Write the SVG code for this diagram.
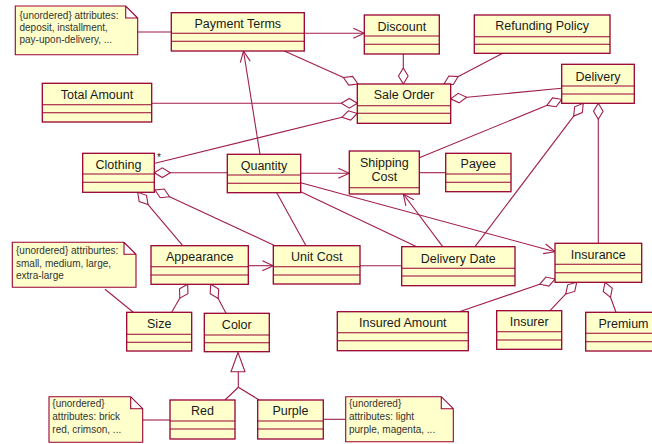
<svg xmlns="http://www.w3.org/2000/svg" width="652" height="444" viewBox="0 0 652 444">
<style>
.box{fill:#FFFFCC;stroke:#990033;stroke-width:1.3}
.sep{stroke:#990033;stroke-width:1.1}
.name{font-family:"Liberation Sans",Arial,sans-serif;font-size:12.5px;fill:#1a1a1a;text-anchor:middle}
.note{fill:#FFFFCC;stroke:#990033;stroke-width:1.1}
.ntxt{font-family:"Liberation Sans",Arial,sans-serif;font-size:10px;fill:#333}
.ln{fill:none;stroke:#A01D4C;stroke-width:1.1}
.agg{marker-end:url(#dia)}
.nav{marker-end:url(#arr)}
</style>
<defs>
<marker id="dia" viewBox="-1 -6 18 12" refX="16" refY="0" markerWidth="18" markerHeight="12" markerUnits="userSpaceOnUse" orient="auto"><path d="M0,0 L8,-4.8 L16,0 L8,4.8 Z" fill="#fff" stroke="#A01D4C" stroke-width="1.1"/></marker>
<marker id="arr" viewBox="-12 -7 13 14" refX="0" refY="0" markerWidth="13" markerHeight="14" markerUnits="userSpaceOnUse" orient="auto"><path d="M-11,-5 L0,0 L-11,5" fill="none" stroke="#A01D4C" stroke-width="1.1"/></marker>
</defs>

<g id="connectors">
<line class="ln" x1="137.7" y1="32" x2="171.3" y2="32"/>
<line class="ln nav" x1="304.3" y1="33.3" x2="364.3" y2="33.3"/>
<line class="ln agg" x1="403.3" y1="54" x2="403.3" y2="84"/>
<line class="ln agg" x1="284.3" y1="51" x2="358" y2="84"/>
<line class="ln agg" x1="502.7" y1="53.3" x2="444" y2="84"/>
<line class="ln agg" x1="151.7" y1="103.3" x2="357.3" y2="103.3"/>
<line class="ln agg" x1="155" y1="163.3" x2="357.3" y2="113.5"/>
<line class="ln agg" x1="561.7" y1="88.3" x2="450.7" y2="98.8"/>
<line class="ln nav" x1="260" y1="154.3" x2="243.5" y2="51"/>
<line class="ln agg" x1="419.3" y1="157.7" x2="561.7" y2="99.3"/>
<line class="ln agg" x1="475" y1="246.7" x2="583.3" y2="103.3"/>
<line class="ln agg" x1="598.3" y1="243.3" x2="598.3" y2="103.3"/>
<line class="ln agg" x1="227.3" y1="172.7" x2="154.3" y2="172.7"/>
<line class="ln agg" x1="182.7" y1="245.7" x2="137.7" y2="192.3"/>
<line class="ln agg" x1="275" y1="245.7" x2="155" y2="190"/>
<line class="ln nav" x1="248.3" y1="265.7" x2="273.3" y2="265.7"/>
<line class="ln" x1="276.7" y1="192.7" x2="306" y2="245.7"/>
<line class="ln nav" x1="300.7" y1="173.3" x2="349.3" y2="173.3"/>
<line class="ln nav" x1="300.7" y1="182.7" x2="555" y2="251.7"/>
<line class="ln" x1="300.7" y1="191.7" x2="416.7" y2="246.7"/>
<line class="ln nav" x1="442.7" y1="246.7" x2="403.3" y2="194"/>
<line class="ln" x1="419.3" y1="172.7" x2="445.7" y2="172.7"/>
<line class="ln" x1="360" y1="265.7" x2="401.7" y2="265.7"/>
<line class="ln agg" x1="459.3" y1="311.7" x2="555" y2="279"/>
<line class="ln agg" x1="550" y1="310.7" x2="576.7" y2="282.3"/>
<line class="ln agg" x1="616" y1="312.3" x2="605" y2="282.3"/>
<line class="ln" x1="105" y1="289.3" x2="133.3" y2="312.3"/>
<line class="ln agg" x1="171.7" y1="312.3" x2="187.7" y2="284.3"/>
<line class="ln agg" x1="226" y1="313.3" x2="210.7" y2="284.3"/>
<path class="ln" d="M225,400 L238.3,387.3 L259.3,400 M238.3,387.3 V371.7"/>
<path d="M238,352.5 L231,371.7 H245 Z" fill="#fff" stroke="#A01D4C" stroke-width="1.1"/>
<line class="ln" x1="142.7" y1="420" x2="170" y2="420"/>
<line class="ln" x1="323.3" y1="419.3" x2="345.7" y2="419.3"/>
<text x="159" y="161" font-family="Liberation Sans,Arial,sans-serif" font-size="10" fill="#1a1a1a" text-anchor="middle">*</text>
</g>

<g id="note-payment">
<path class="note" d="M15.3,6 H125.7 L137.7,18 V54.7 H15.3 Z M125.7,6 V18 H137.7"/>
<text class="ntxt" x="19.5" y="18.5">{unordered} attributes:</text>
<text class="ntxt" x="19.5" y="30.5">deposit, installment,</text>
<text class="ntxt" x="19.5" y="43">pay-upon-delivery, ...</text>
</g>
<g id="payment-terms"><rect class="box" x="171.3" y="12.7" width="133" height="38.3"/><line class="sep" x1="171.3" y1="33.3" x2="304.3" y2="33.3"/><line class="sep" x1="171.3" y1="41.3" x2="304.3" y2="41.3"/><text class="name" x="237.8" y="27.7">Payment Terms</text></g>
<g id="discount"><rect class="box" x="364.3" y="15" width="75" height="39"/><line class="sep" x1="364.3" y1="36" x2="439.3" y2="36"/><line class="sep" x1="364.3" y1="44.3" x2="439.3" y2="44.3"/><text class="name" x="401.8" y="31">Discount</text></g>
<g id="refunding-policy"><rect class="box" x="474.3" y="15" width="135.7" height="38.3"/><line class="sep" x1="474.3" y1="36.7" x2="610" y2="36.7"/><line class="sep" x1="474.3" y1="44.3" x2="610" y2="44.3"/><text class="name" x="542.2" y="30">Refunding Policy</text></g>
<g id="sale-order"><rect class="box" x="357.3" y="84" width="93.4" height="39.3"/><line class="sep" x1="357.3" y1="105.7" x2="450.7" y2="105.7"/><line class="sep" x1="357.3" y1="113.3" x2="450.7" y2="113.3"/><text class="name" x="404" y="99.3">Sale Order</text></g>
<g id="delivery"><rect class="box" x="561.7" y="64.3" width="72.6" height="39"/><line class="sep" x1="561.7" y1="86" x2="634.3" y2="86"/><line class="sep" x1="561.7" y1="94" x2="634.3" y2="94"/><text class="name" x="598" y="81">Delivery</text></g>
<g id="total-amount"><rect class="box" x="42.3" y="83.3" width="109.4" height="38.7"/><line class="sep" x1="42.3" y1="104.7" x2="151.7" y2="104.7"/><line class="sep" x1="42.3" y1="112.7" x2="151.7" y2="112.7"/><text class="name" x="97" y="99.3">Total Amount</text></g>
<g id="clothing"><rect class="box" x="82.7" y="153.3" width="71.6" height="39"/><line class="sep" x1="82.7" y1="174" x2="154.3" y2="174"/><line class="sep" x1="82.7" y1="182.3" x2="154.3" y2="182.3"/><text class="name" x="118.5" y="168.6">Clothing</text></g>
<g id="quantity"><rect class="box" x="227.3" y="154.3" width="73.4" height="38.4"/><line class="sep" x1="227.3" y1="175" x2="300.7" y2="175"/><line class="sep" x1="227.3" y1="183.3" x2="300.7" y2="183.3"/><text class="name" x="264" y="170">Quantity</text></g>
<g id="shipping-cost"><rect class="box" x="349.3" y="151" width="70" height="43"/><line class="sep" x1="349.3" y1="187.7" x2="419.3" y2="187.7"/><text class="name" x="384.3" y="167">Shipping</text><text class="name" x="384.3" y="181">Cost</text></g>
<g id="payee"><rect class="box" x="445.7" y="153.3" width="65.3" height="38.4"/><line class="sep" x1="445.7" y1="174" x2="511" y2="174"/><line class="sep" x1="445.7" y1="182.3" x2="511" y2="182.3"/><text class="name" x="478.3" y="168.3">Payee</text></g>
<g id="appearance"><rect class="box" x="151" y="245.7" width="97.3" height="38.6"/><line class="sep" x1="151" y1="266.7" x2="248.3" y2="266.7"/><line class="sep" x1="151" y1="275" x2="248.3" y2="275"/><text class="name" x="199.7" y="261">Appearance</text></g>
<g id="unit-cost"><rect class="box" x="273.3" y="245.7" width="86.7" height="38.3"/><line class="sep" x1="273.3" y1="266.7" x2="360" y2="266.7"/><line class="sep" x1="273.3" y1="275" x2="360" y2="275"/><text class="name" x="316.7" y="261">Unit Cost</text></g>
<g id="delivery-date"><rect class="box" x="401.7" y="246.7" width="113.3" height="39"/><line class="sep" x1="401.7" y1="268.3" x2="515" y2="268.3"/><line class="sep" x1="401.7" y1="276" x2="515" y2="276"/><text class="name" x="458.3" y="262.6">Delivery Date</text></g>
<g id="insurance"><rect class="box" x="555" y="243.3" width="86.7" height="39"/><line class="sep" x1="555" y1="264.3" x2="641.7" y2="264.3"/><line class="sep" x1="555" y1="272.7" x2="641.7" y2="272.7"/><text class="name" x="598.3" y="259.3">Insurance</text></g>
<g id="note-size">
<path class="note" d="M12.3,242.3 H124 L136,254.3 V287.3 H12.3 Z M124,242.3 V254.3 H136"/>
<text class="ntxt" x="16" y="253.5">{unordered} attriburtes:</text>
<text class="ntxt" x="16" y="266.5">small, medium, large,</text>
<text class="ntxt" x="16" y="279">extra-large</text>
</g>
<g id="size"><rect class="box" x="126.7" y="312.3" width="65" height="38.7"/><line class="sep" x1="126.7" y1="334.3" x2="191.7" y2="334.3"/><line class="sep" x1="126.7" y1="342.3" x2="191.7" y2="342.3"/><text class="name" x="159.2" y="327.6">Size</text></g>
<g id="color"><rect class="box" x="204.3" y="313.3" width="65" height="38.4"/><line class="sep" x1="204.3" y1="335" x2="269.3" y2="335"/><line class="sep" x1="204.3" y1="342.7" x2="269.3" y2="342.7"/><text class="name" x="236.8" y="329.3">Color</text></g>
<g id="insured-amount"><rect class="box" x="337.3" y="311.7" width="131" height="39"/><line class="sep" x1="337.3" y1="332.7" x2="468.3" y2="332.7"/><line class="sep" x1="337.3" y1="340.7" x2="468.3" y2="340.7"/><text class="name" x="402.8" y="327">Insured Amount</text></g>
<g id="insurer"><rect class="box" x="496.7" y="310.7" width="65" height="38.6"/><line class="sep" x1="496.7" y1="331.7" x2="561.7" y2="331.7"/><line class="sep" x1="496.7" y1="340" x2="561.7" y2="340"/><text class="name" x="529.2" y="326">Insurer</text></g>
<g id="premium"><rect class="box" x="585.7" y="312.3" width="75.6" height="38.7"/><line class="sep" x1="585.7" y1="333.3" x2="661.3" y2="333.3"/><line class="sep" x1="585.7" y1="341.7" x2="661.3" y2="341.7"/><text class="name" x="623.5" y="327.6">Premium</text></g>
<g id="red"><rect class="box" x="170" y="400" width="65" height="39"/><line class="sep" x1="170" y1="421" x2="235" y2="421"/><line class="sep" x1="170" y1="429" x2="235" y2="429"/><text class="name" x="202.5" y="415.3">Red</text></g>
<g id="purple"><rect class="box" x="257.7" y="400" width="65.6" height="39"/><line class="sep" x1="257.7" y1="421" x2="323.3" y2="421"/><line class="sep" x1="257.7" y1="429" x2="323.3" y2="429"/><text class="name" x="290.5" y="415.3">Purple</text></g>
<g id="note-red">
<path class="note" d="M49,396.7 H130.7 L142.7,408.7 V442.3 H49 Z M130.7,396.7 V408.7 H142.7"/>
<text class="ntxt" x="52.3" y="406.8">{unordered}</text>
<text class="ntxt" x="52.3" y="420">attributes: brick</text>
<text class="ntxt" x="52.3" y="433.3">red, crimson, ...</text>
</g>
<g id="note-purple">
<path class="note" d="M345.7,396.7 H441.3 L453.3,408.7 V441.7 H345.7 Z M441.3,396.7 V408.7 H453.3"/>
<text class="ntxt" x="349" y="406.8">{unordered}</text>
<text class="ntxt" x="349" y="420">attributes: light</text>
<text class="ntxt" x="349" y="433.3">purple, magenta, ...</text>
</g>
</svg>
